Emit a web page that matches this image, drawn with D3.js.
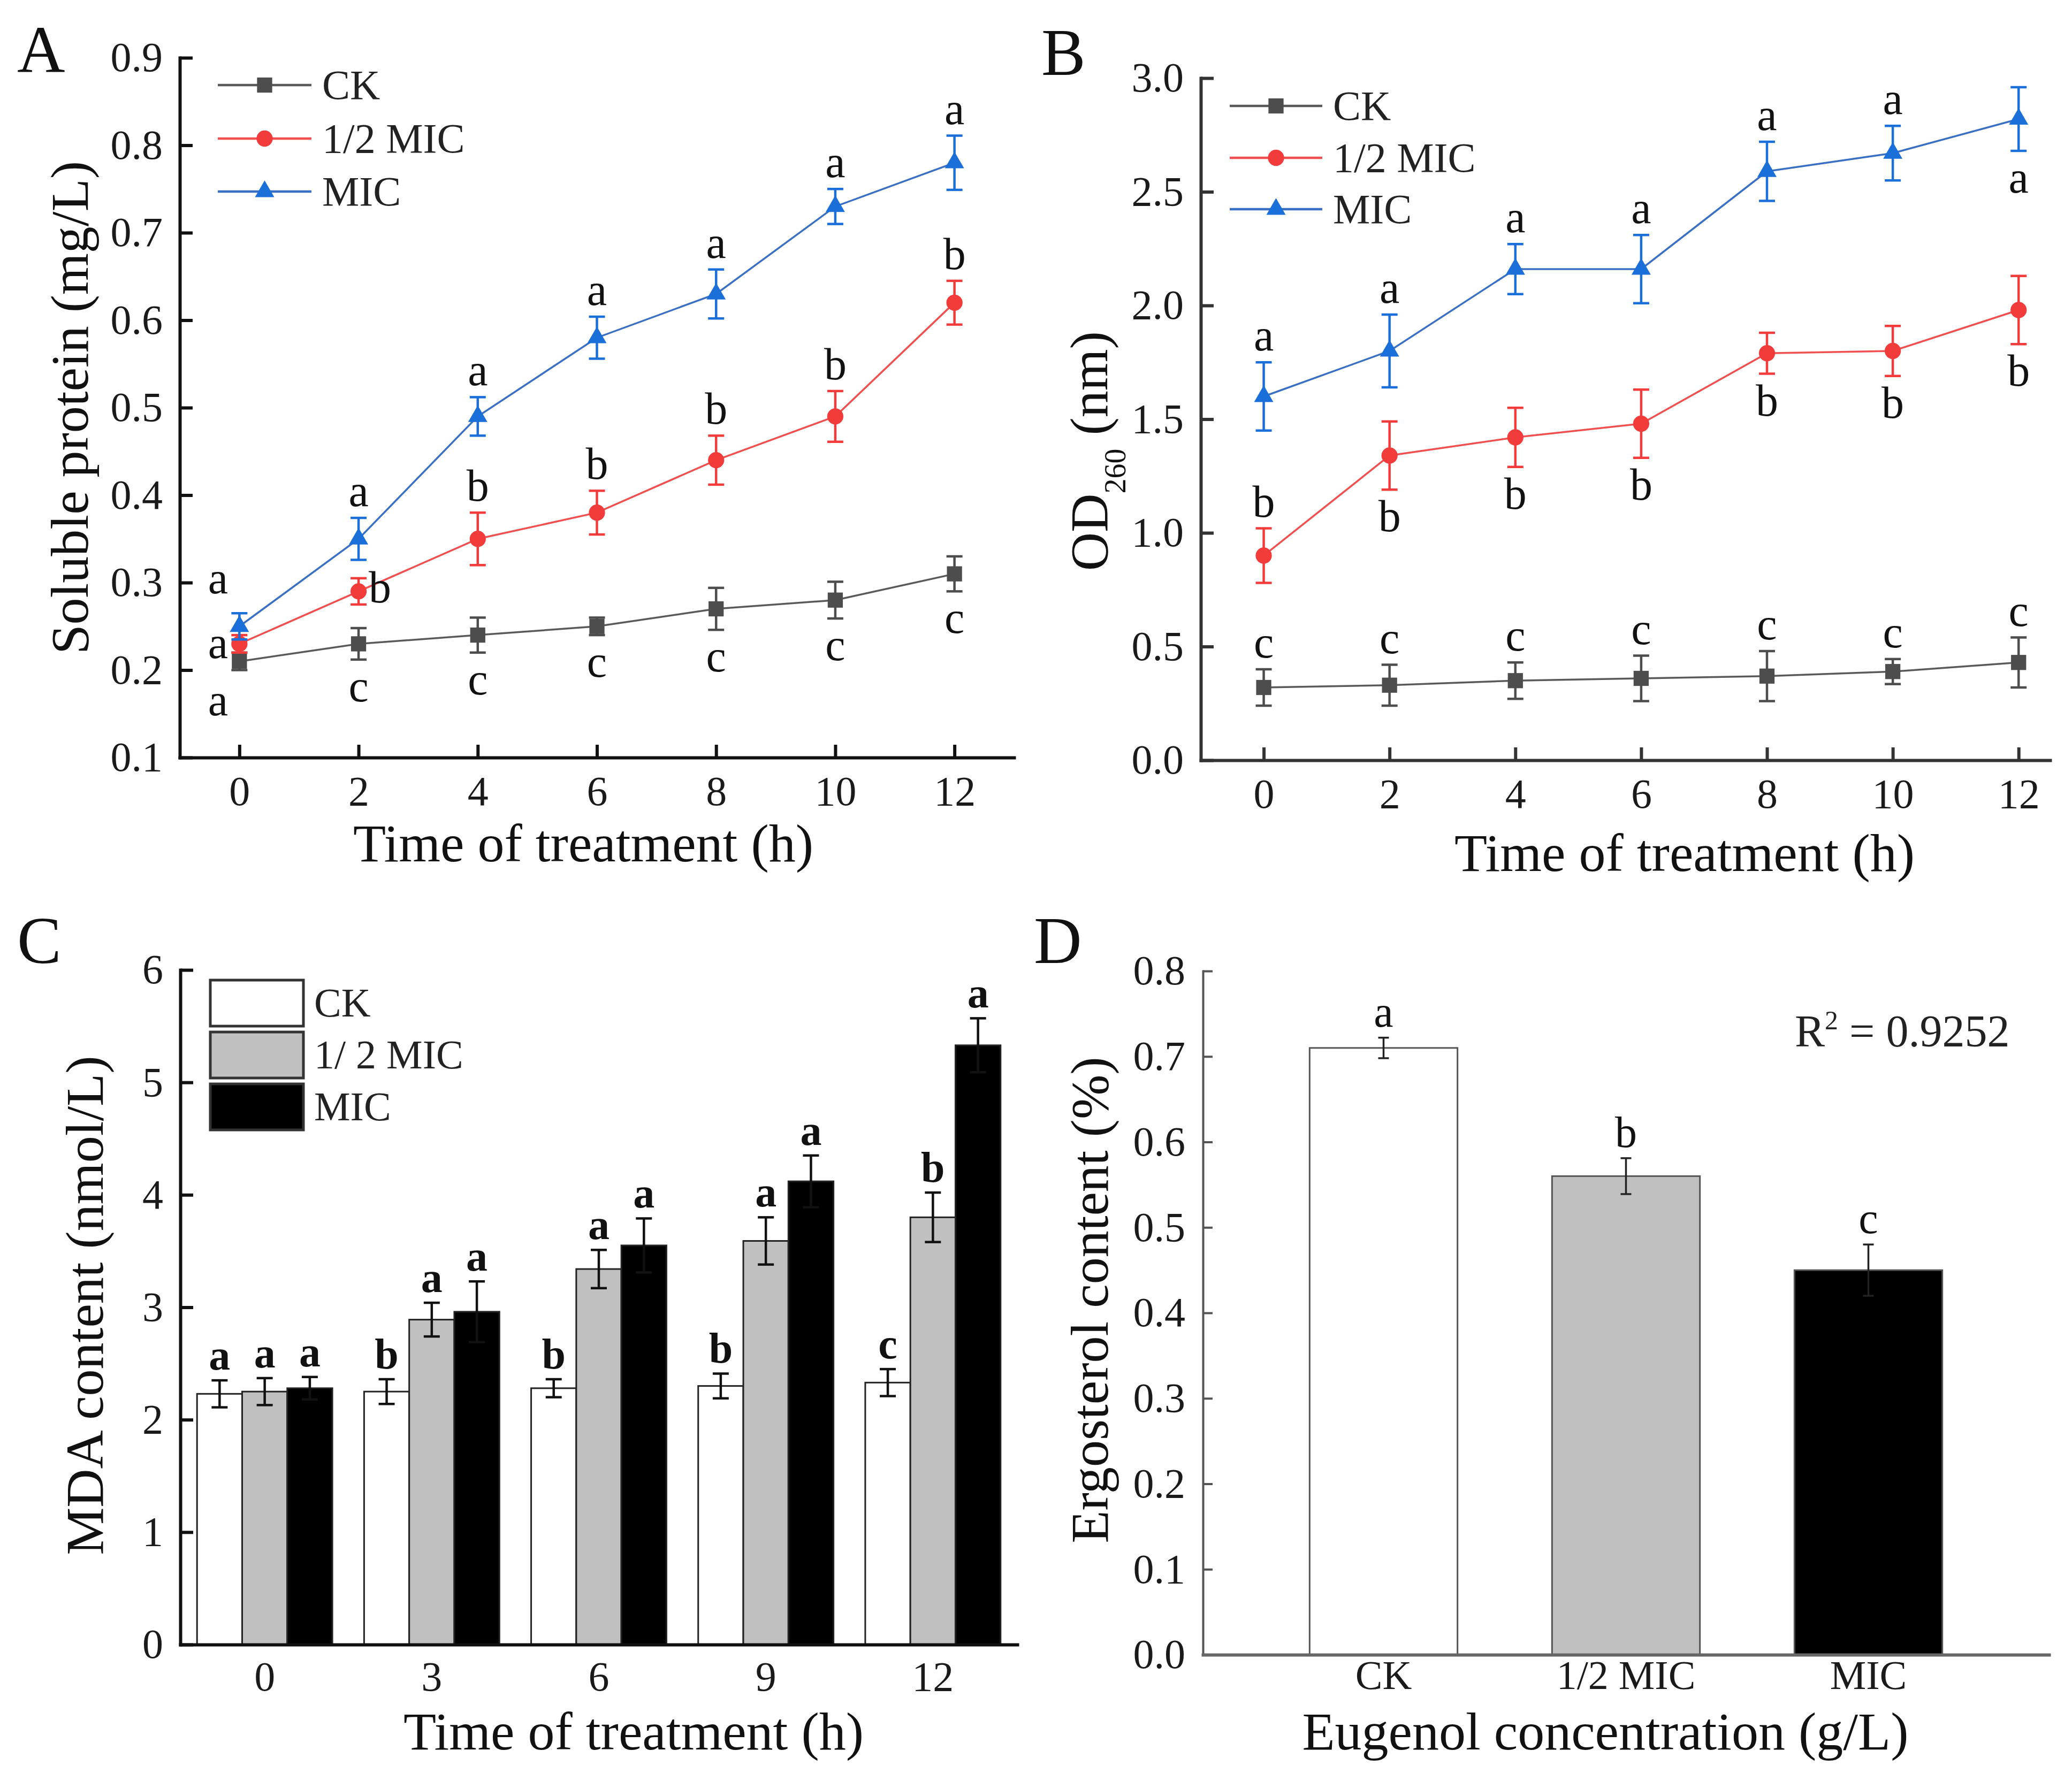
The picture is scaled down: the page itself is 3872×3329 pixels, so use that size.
<!DOCTYPE html>
<html>
<head>
<meta charset="utf-8">
<script src="https://cdn.jsdelivr.net/npm/d3@7"></script>
<style>
body { margin: 0; background: #fff; }
</style>
</head>
<body>
<svg id="fig" width="3872" height="3329"></svg>
<script>
// ---------- data ----------
var hoursAB = [0, 2, 4, 6, 8, 10, 12];
var hoursC = ["0", "3", "6", "9", "12"];
var groups = ["CK", "1/2 MIC", "MIC"];

// A: soluble protein (mg/L)
var protCK = [0.21, 0.23, 0.24, 0.25, 0.27, 0.28, 0.31];
var protCKErr = [0.01, 0.018, 0.02, 0.01, 0.024, 0.021, 0.02];
var protHalf = [0.23, 0.29, 0.35, 0.38, 0.44, 0.49, 0.62];
var protHalfErr = [0.01, 0.015, 0.03, 0.025, 0.028, 0.029, 0.025];
var protMIC = [0.25, 0.35, 0.49, 0.58, 0.63, 0.73, 0.78];
var protMICErr = [0.015, 0.024, 0.022, 0.024, 0.028, 0.02, 0.031];
var protCKSig = ["a", "c", "c", "c", "c", "c", "c"];
var protHalfSig = ["a", "b", "b", "b", "b", "b", "b"];
var protMICSig = ["a", "a", "a", "a", "a", "a", "a"];
var protTicks = [0.1, 0.2, 0.3, 0.4, 0.5, 0.6, 0.7, 0.8, 0.9];

// B: OD260 (nm)
var odCK = [0.32, 0.33, 0.35, 0.36, 0.37, 0.39, 0.43];
var odCKErr = [0.08, 0.09, 0.08, 0.10, 0.11, 0.055, 0.11];
var odHalf = [0.90, 1.34, 1.42, 1.48, 1.79, 1.80, 1.98];
var odHalfErr = [0.12, 0.15, 0.13, 0.15, 0.09, 0.11, 0.15];
var odMIC = [1.60, 1.80, 2.16, 2.16, 2.59, 2.67, 2.82];
var odMICErr = [0.15, 0.16, 0.11, 0.15, 0.13, 0.12, 0.14];
var odCKSig = ["c", "c", "c", "c", "c", "c", "c"];
var odHalfSig = ["b", "b", "b", "b", "b", "b", "b"];
var odMICSig = ["a", "a", "a", "a", "a", "a", "a"];
var odTicks = [0, 0.5, 1.0, 1.5, 2.0, 2.5, 3.0];

// C: MDA content (nmol/L)
var mdaCK = [2.23, 2.25, 2.28, 2.30, 2.33];
var mdaCKErr = [0.12, 0.11, 0.08, 0.11, 0.12];
var mdaHalf = [2.25, 2.89, 3.34, 3.59, 3.80];
var mdaHalfErr = [0.12, 0.15, 0.17, 0.21, 0.22];
var mdaMIC = [2.28, 2.96, 3.55, 4.12, 5.33];
var mdaMICErr = [0.10, 0.27, 0.24, 0.23, 0.24];
var mdaCKSig = ["a", "b", "b", "b", "c"];
var mdaHalfSig = ["a", "a", "a", "a", "b"];
var mdaMICSig = ["a", "a", "a", "a", "a"];
var mdaTicks = [0, 1, 2, 3, 4, 5, 6];
var mdaLegend = ["CK", "1/ 2 MIC", "MIC"];

// D: ergosterol content (%)
var ergo = [0.71, 0.56, 0.45];
var ergoErr = [0.012, 0.021, 0.03];
var ergoSig = ["a", "b", "c"];
var ergoTicks = [0, 0.1, 0.2, 0.3, 0.4, 0.5, 0.6, 0.7, 0.8];
var r2Value = "0.9252";

// ---------- setup ----------
var FONT = '"Liberation Serif", "Times New Roman", serif';
var svg = d3.select("#fig");
svg.append("rect").attr("width", 3872).attr("height", 3329).attr("fill", "#fff");

var lineColors = ["#4d4d4d", "#f23c3c", "#1a6fd8"];
var lineStroke = ["#5a5a5a", "#f05050", "#3a70c4"];
var markers = [d3.symbolSquare, d3.symbolCircle, d3.symbolTriangle];
var markerSize = [800, 720, 560];
var barFills = ["#ffffff", "#c0c0c0", "#000000"];

function styleAxis(a, w, color, size) {
	a.attr("font-family", FONT).attr("font-size", size);
	a.select(".domain").attr("stroke", color).attr("stroke-width", w).attr("stroke-linecap", "square");
	a.selectAll(".tick line").attr("stroke", color).attr("stroke-width", w);
	a.selectAll(".tick text").attr("fill", "#1a1a1a");
}

function addText(x, y, txt, size, opts) {
	opts = opts || {};
	var t = svg.append("text").attr("x", x).attr("y", y).text(txt)
		.attr("font-family", FONT).attr("font-size", size)
		.attr("fill", opts.fill || "#111")
		.attr("text-anchor", opts.anchor || "start");
	if (opts.bold) t.attr("font-weight", "bold");
	return t;
}

function yTitle(x, y, txt, size) {
	return svg.append("text").attr("transform", "translate(" + x + "," + y + ") rotate(-90)")
		.attr("text-anchor", "middle").attr("font-family", FONT).attr("font-size", size)
		.attr("fill", "#111").text(txt);
}

// line chart with error bars, used for A and B
function linePanel(p) {
	var g = svg.append("g");
	var gy = g.append("g").attr("transform", "translate(" + p.x.range()[0] + ",0)")
		.call(d3.axisLeft(p.y).tickValues(p.yTicks).tickFormat(d3.format(".1f"))
			.tickSizeInner(-24).tickSizeOuter(0).tickPadding(32));
	var gx = g.append("g").attr("transform", "translate(0," + p.y.range()[0] + ")")
		.call(d3.axisBottom(p.x).tickValues(hoursAB).tickFormat(d3.format("d"))
			.tickSizeInner(-24).tickSizeOuter(0).tickPadding(34));
	styleAxis(gy, 6, p.axisColor, 78);
	styleAxis(gx, 6, p.axisColor, 78);

	var line = d3.line().x(function(d) { return p.x(d.h); }).y(function(d) { return p.y(d.v); });
	var all = p.series.map(function(s, si) {
		return hoursAB.map(function(h, i) {
			return { h: h, v: s.vals[i], e: s.errs[i], sig: s.sig[i], i: i, si: si, name: groups[si] };
		});
	});
	all.forEach(function(pts, si) {
		g.append("path").datum(pts).attr("d", line).attr("fill", "none")
			.attr("stroke", lineStroke[si]).attr("stroke-width", 3.5);
	});
	all.forEach(function(pts, si) {
		var eb = g.append("g").attr("stroke", lineColors[si]).attr("stroke-width", 4.5);
		pts.forEach(function(d) {
			var cx = p.x(d.h), y0 = p.y(d.v - d.e), y1 = p.y(d.v + d.e);
			eb.append("line").attr("x1", cx).attr("x2", cx).attr("y1", y0).attr("y2", y1);
			eb.append("line").attr("x1", cx - 15).attr("x2", cx + 15).attr("y1", y0).attr("y2", y0);
			eb.append("line").attr("x1", cx - 15).attr("x2", cx + 15).attr("y1", y1).attr("y2", y1);
		});
		g.selectAll(null).data(pts).enter().append("path")
			.attr("d", d3.symbol().type(markers[si]).size(markerSize[si]))
			.attr("transform", function(d) { return "translate(" + p.x(d.h) + "," + p.y(d.v) + ")"; })
			.attr("fill", lineColors[si]);
	});
	// significance letters
	all.forEach(function(pts) {
		pts.forEach(function(d) {
			var cx = p.x(d.h), cy = p.y(d.v), pos = p.place(d.name, d.i);
			var x = cx, y;
			if (pos === "above") y = p.y(d.v + d.e) - 22;
			else if (pos === "below") y = p.y(d.v - d.e) + 78;
			else if (pos === "la") { x = cx - 40; y = cy - 62; }
			else if (pos === "l") { x = cx - 40; y = cy + 27; }
			else if (pos === "lb") { x = cx - 40; y = cy + 101; }
			else if (pos === "r") { x = cx + 40; y = cy + 21; }
			addText(x, y, d.sig, 84, { anchor: "middle" });
		});
	});
	// legend
	p.legendRows.forEach(function(ry, si) {
		g.append("line").attr("x1", p.legendX[0]).attr("x2", p.legendX[1]).attr("y1", ry).attr("y2", ry)
			.attr("stroke", lineStroke[si]).attr("stroke-width", 4.5);
		g.append("path").attr("d", d3.symbol().type(markers[si]).size(markerSize[si]))
			.attr("transform", "translate(" + (p.legendX[0] + p.legendX[1]) / 2 + "," + ry + ")")
			.attr("fill", lineColors[si]);
		addText(p.legendX[1] + 20, ry + 26, groups[si], 78, { fill: "#222" });
	});
}

// ---------- A ----------
var xA = d3.scaleLinear().domain([-1, 13]).range([336, 1895]);
var yA = d3.scaleLinear().domain([0.1, 0.9]).range([1416, 108]);
linePanel({
	x: xA, y: yA, yTicks: protTicks, axisColor: "#111",
	series: [
		{ vals: protCK, errs: protCKErr, sig: protCKSig },
		{ vals: protHalf, errs: protHalfErr, sig: protHalfSig },
		{ vals: protMIC, errs: protMICErr, sig: protMICSig }
	],
	place: function(name, i) {
		if (i === 0) return name === "MIC" ? "la" : (name === "CK" ? "lb" : "l");
		if (name === "1/2 MIC" && i === 1) return "r";
		return name === "CK" ? "below" : "above";
	},
	legendX: [407, 582], legendRows: [159, 259, 358]
});
addText(32, 135, "A", 124);
yTitle(164, 762, "Soluble protein (mg/L)", 100);
addText(1090, 1610, "Time of treatment (h)", 100, { anchor: "middle" });

// ---------- B ----------
var xB = d3.scaleLinear().domain([-1, 12.5]).range([2244, 3831]);
var yB = d3.scaleLinear().domain([0, 3]).range([1421, 146]);
linePanel({
	x: xB, y: yB, yTicks: odTicks, axisColor: "#333",
	series: [
		{ vals: odCK, errs: odCKErr, sig: odCKSig },
		{ vals: odHalf, errs: odHalfErr, sig: odHalfSig },
		{ vals: odMIC, errs: odMICErr, sig: odMICSig }
	],
	place: function(name, i) {
		if (name === "CK") return "above";
		if (name === "MIC") return i === 6 ? "below" : "above";
		return i === 0 ? "above" : "below";
	},
	legendX: [2298, 2471], legendRows: [198, 295, 391]
});
addText(1946, 140, "B", 124);
var odT = svg.append("text").attr("transform", "translate(2069,843) rotate(-90)")
	.attr("text-anchor", "middle").attr("font-family", FONT).attr("font-size", 100).attr("fill", "#111");
odT.append("tspan").text("OD");
odT.append("tspan").attr("dy", 34).attr("font-size", 56).text("260");
odT.append("tspan").attr("dy", -34).text(" (nm)");
addText(3148, 1628, "Time of treatment (h)", 100, { anchor: "middle" });

// ---------- C ----------
var x0C = d3.scaleBand().domain(hoursC).range([337, 1901]).paddingInner(0.19).paddingOuter(0.1);
var x1C = d3.scaleBand().domain(groups).range([0, x0C.bandwidth()]);
var yC = d3.scaleLinear().domain([0, 6]).range([3074, 1813]);
var mdaVals = [mdaCK, mdaHalf, mdaMIC], mdaErrs = [mdaCKErr, mdaHalfErr, mdaMICErr], mdaSigs = [mdaCKSig, mdaHalfSig, mdaMICSig];
var gC = svg.append("g");
var barsC = [];
hoursC.forEach(function(h, i) {
	groups.forEach(function(s, si) {
		barsC.push({ h: h, s: s, si: si, v: mdaVals[si][i], e: mdaErrs[si][i], sig: mdaSigs[si][i] });
	});
});
gC.selectAll("rect.bar").data(barsC).enter().append("rect").attr("class", "bar")
	.attr("x", function(d) { return x0C(d.h) + x1C(d.s); })
	.attr("width", x1C.bandwidth())
	.attr("y", function(d) { return yC(d.v); })
	.attr("height", function(d) { return yC(0) - yC(d.v); })
	.attr("fill", function(d) { return barFills[d.si]; })
	.attr("stroke", "#222").attr("stroke-width", 3);
barsC.forEach(function(d) {
	var cx = x0C(d.h) + x1C(d.s) + x1C.bandwidth() / 2;
	var y0 = yC(d.v - d.e), y1 = yC(d.v + d.e);
	var eb = gC.append("g").attr("stroke", "#111").attr("stroke-width", 4.5);
	eb.append("line").attr("x1", cx).attr("x2", cx).attr("y1", y0).attr("y2", y1);
	eb.append("line").attr("x1", cx - 15).attr("x2", cx + 15).attr("y1", y0).attr("y2", y0);
	eb.append("line").attr("x1", cx - 15).attr("x2", cx + 15).attr("y1", y1).attr("y2", y1);
	addText(cx, y1 - 20, d.sig, 80, { anchor: "middle", bold: true });
});
var gyC = gC.append("g").attr("transform", "translate(337,0)")
	.call(d3.axisLeft(yC).tickValues(mdaTicks).tickFormat(d3.format("d"))
		.tickSizeInner(-24).tickSizeOuter(0).tickPadding(32));
var gxC = gC.append("g").attr("transform", "translate(0,3074)")
	.call(d3.axisBottom(x0C).tickSize(0).tickPadding(31));
styleAxis(gyC, 6, "#111", 78);
styleAxis(gxC, 6, "#111", 78);
mdaLegend.forEach(function(name, si) {
	var top = 1832 + si * 97;
	gC.append("rect").attr("x", 393).attr("y", top).attr("width", 174).attr("height", 86)
		.attr("fill", barFills[si]).attr("stroke", "#333").attr("stroke-width", 5);
	addText(587, top + 68, name, 76, { fill: "#222" });
});
addText(32, 1800, "C", 124);
yTitle(192, 2440, "MDA content (nmol/L)", 100);
addText(1184, 3270, "Time of treatment (h)", 100, { anchor: "middle" });

// ---------- D ----------
var xD = d3.scaleBand().domain(groups).range([2248, 3829]).paddingInner(0.39).paddingOuter(0.44);
var yD = d3.scaleLinear().domain([0, 0.8]).range([3093, 1815]);
var gD = svg.append("g");
var barsD = groups.map(function(s, i) { return { s: s, si: i, v: ergo[i], e: ergoErr[i], sig: ergoSig[i] }; });
gD.selectAll("rect").data(barsD).enter().append("rect")
	.attr("x", function(d) { return xD(d.s); })
	.attr("width", xD.bandwidth())
	.attr("y", function(d) { return yD(d.v); })
	.attr("height", function(d) { return yD(0) - yD(d.v); })
	.attr("fill", function(d) { return barFills[d.si]; })
	.attr("stroke", "#555").attr("stroke-width", 3);
barsD.forEach(function(d) {
	var cx = xD(d.s) + xD.bandwidth() / 2;
	var y0 = yD(d.v - d.e), y1 = yD(d.v + d.e);
	var eb = gD.append("g").attr("stroke", "#222").attr("stroke-width", 3.5);
	eb.append("line").attr("x1", cx).attr("x2", cx).attr("y1", y0).attr("y2", y1);
	eb.append("line").attr("x1", cx - 10).attr("x2", cx + 10).attr("y1", y0).attr("y2", y0);
	eb.append("line").attr("x1", cx - 10).attr("x2", cx + 10).attr("y1", y1).attr("y2", y1);
	addText(cx, y1 - 21, d.sig, 82, { anchor: "middle" });
});
var gyD = gD.append("g").attr("transform", "translate(2248,0)")
	.call(d3.axisLeft(yD).tickValues(ergoTicks).tickFormat(d3.format(".1f"))
		.tickSizeInner(-18).tickSizeOuter(0).tickPadding(33));
var gxD = gD.append("g").attr("transform", "translate(0,3093)")
	.call(d3.axisBottom(xD).tickSize(0).tickPadding(10));
styleAxis(gyD, 4, "#555", 78);
styleAxis(gxD, 6, "#666", 76);
var r2 = addText(3354, 1956, "R", 84, { fill: "#222" });
r2.append("tspan").attr("dy", -32).attr("font-size", 50).text("2");
r2.append("tspan").attr("dy", 32).text(" = " + r2Value);
addText(1932, 1800, "D", 124);
yTitle(2070, 2430, "Ergosterol content (%)", 100);
addText(3000, 3270, "Eugenol concentration (g/L)", 100, { anchor: "middle" });
</script>
</body>
</html>
